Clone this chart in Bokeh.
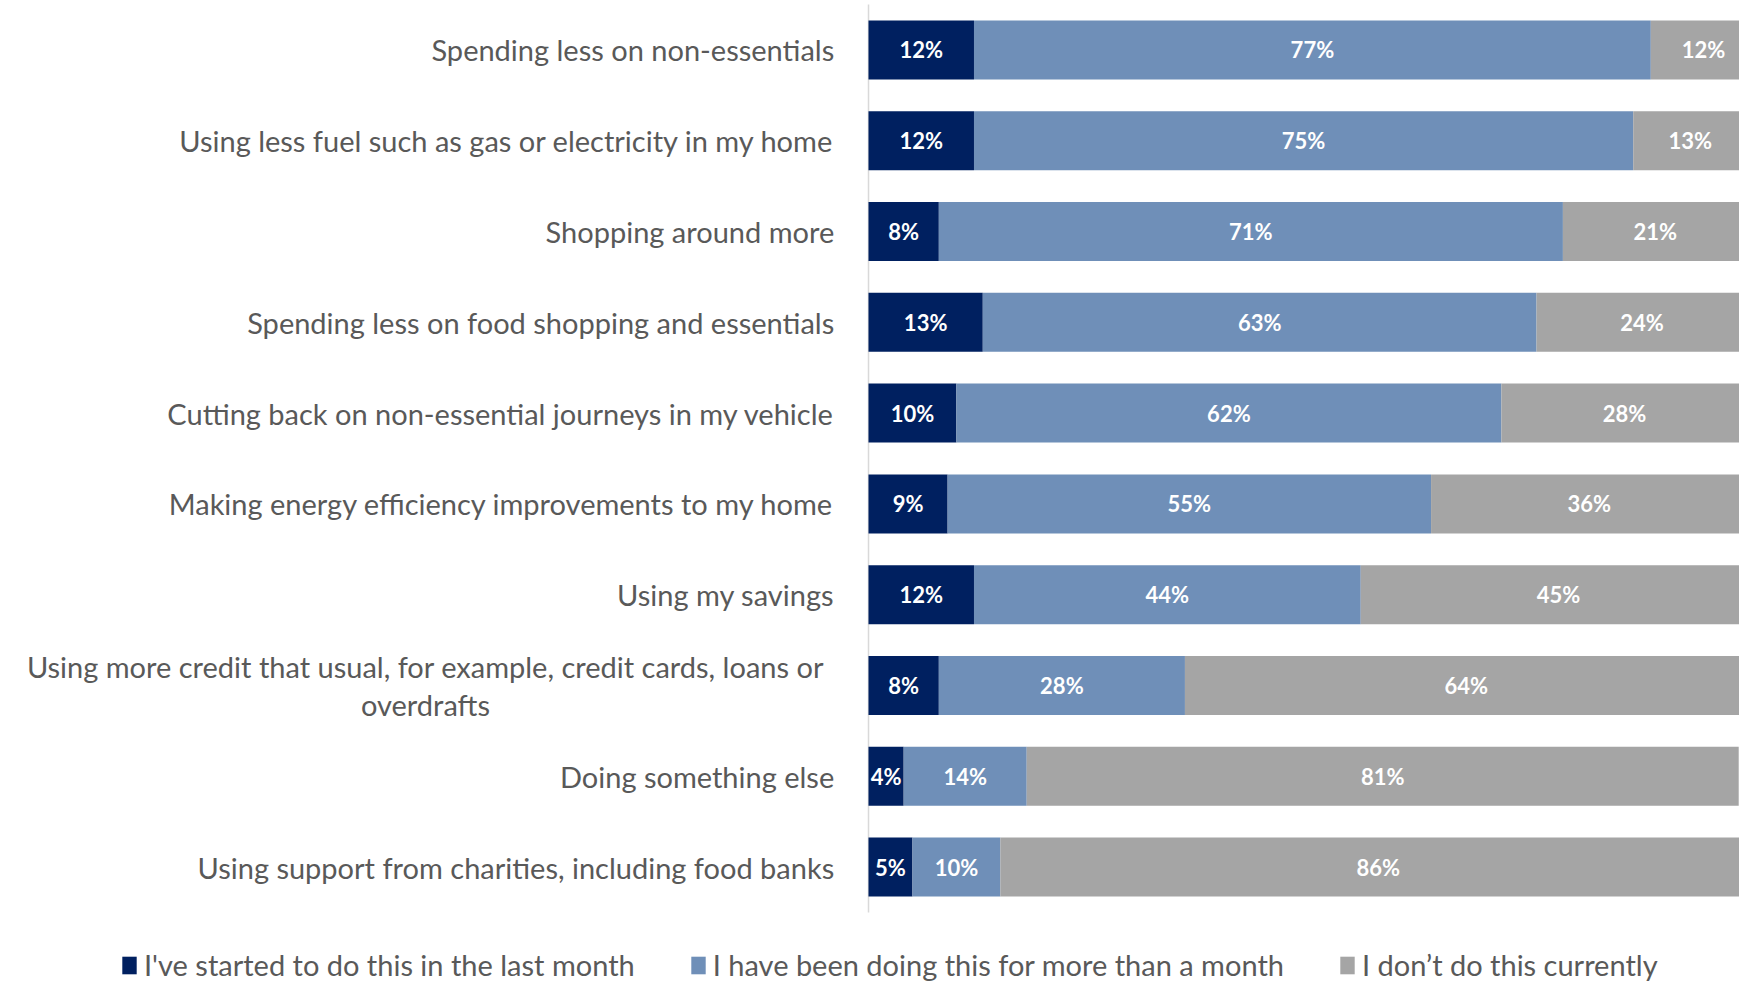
from bokeh.plotting import figure
from bokeh.models import Range1d, Legend, LegendItem, ColumnDataSource
from bokeh.core.properties import value
from bokeh.embed import file_html
from bokeh.resources import INLINE

categories = [
    "Spending less on non-essentials",
    "Using less fuel such as gas or electricity in my home",
    "Shopping around more",
    "Spending less on food shopping and essentials",
    "Cutting back on non-essential journeys in my vehicle",
    "Making energy efficiency improvements to my home",
    "Using my savings",
    "Using more credit that usual, for example, credit cards, loans or\noverdrafts",
    "Doing something else",
    "Using support from charities, including food banks",
]
started = [12, 12, 8, 13, 10, 9, 12, 8, 4, 5]
longer = [77, 75, 71, 63, 62, 55, 44, 28, 14, 10]
not_doing = [12, 13, 21, 24, 28, 36, 45, 64, 81, 86]
series_names = [
    "I've started to do this in the last month",
    "I have been doing this for more than a month",
    "I don\u2019t do this currently",
]
colors = ["#002060", "#6F8FB8", "#A5A5A5"]

FONT = "Lato"
W, H = 1739, 983
n = len(categories)
ys = list(range(n))

p = figure(width=W, height=H, output_backend="svg", toolbar_location=None,
           x_range=Range1d(-98.75, 99.09), y_range=Range1d(10.282, -0.544),
           min_border_left=0, min_border_right=0, min_border_top=0, min_border_bottom=0)
p.xaxis.visible = False
p.yaxis.visible = False
p.grid.visible = False
p.outline_line_color = None

# vertical axis line
p.segment(x0=[0], y0=[-0.5], x1=[0], y1=[n - 0.5], line_color="#D9D9D9", line_width=1.5)

items = []
lefts = [0] * n
for name, vals, col in zip(series_names, [started, longer, not_doing], colors):
    rights = [l + v for l, v in zip(lefts, vals)]
    src = ColumnDataSource(dict(y=ys, left=lefts, right=rights,
                                mid=[(l + r) / 2 for l, r in zip(lefts, rights)],
                                lab=[f"{v}%" for v in vals]))
    r = p.hbar(y="y", left="left", right="right", height=0.65, source=src,
               fill_color=col, line_color=None)
    p.text(x="mid", y="y", text="lab", source=src, text_align="center",
           text_baseline="middle", text_color="white", text_font=value(FONT),
           text_font_style="bold", text_font_size="22px")
    items.append(LegendItem(label=name, renderers=[r]))
    lefts = rights

single = [c for c in categories if "\n" not in c]
single_y = [i for i, c in enumerate(categories) if "\n" not in c]
multi = [c for c in categories if "\n" in c]
multi_y = [i for i, c in enumerate(categories) if "\n" in c]

p.text(x=[-3.9] * len(single), y=single_y, text=single, text_align="right",
       text_baseline="middle", text_color="#595959", text_font=value(FONT),
       text_font_size="29px")
p.text(x=[-50.4] * len(multi), y=multi_y, text=multi, text_align="center",
       text_baseline="middle", text_color="#595959", text_font=value(FONT),
       text_font_size="29px", text_line_height=1.1)

legend = Legend(items=items, orientation="horizontal", location=(120, 1),
                label_text_font=FONT, label_text_font_size="29px", label_text_color="#595959",
                glyph_width=18, glyph_height=22, label_standoff=6, spacing=54,
                padding=0, margin=0, border_line_color=None, background_fill_alpha=0)
p.add_layout(legend, "center")

open("out.html", "w").write(file_html(p, INLINE))
